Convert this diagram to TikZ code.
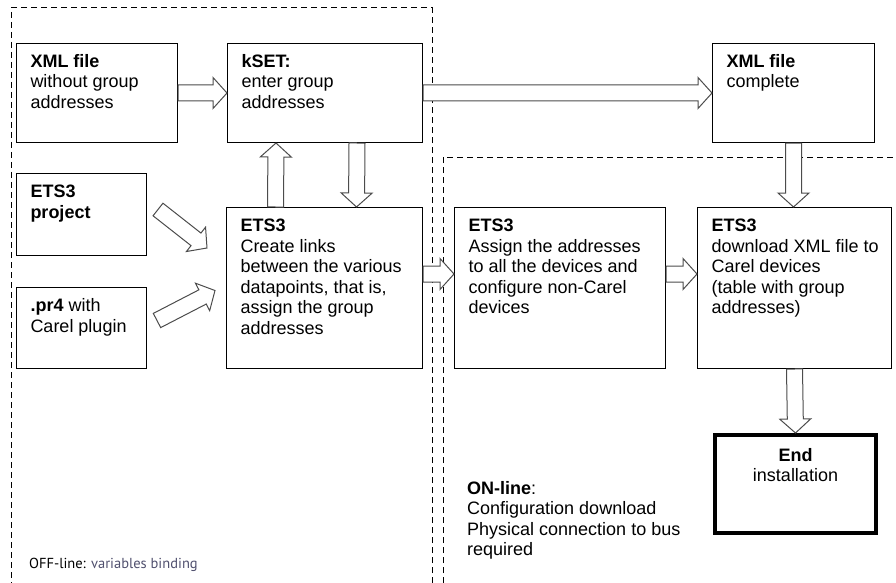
\documentclass[tikz,border=0pt]{standalone}
\usepackage{fontspec}
\setmainfont{Liberation Sans}
\newfontfamily\offfont{PT Sans}
\usetikzlibrary{calc}

\definecolor{arrowgray}{gray}{0.3}
\definecolor{offgray}{RGB}{80,80,110}

% text inside a box: width, height, lines
\newcommand{\stagetext}[3]{\parbox[t][#2pt][t]{#1pt}{\raggedright\leftskip=14pt\rule{0pt}{24pt}#3}}
% hollow block arrow from #1 to #2
\newcommand{\fatarrow}[2]{\draw[fatarrow] let \p1=($(#2)-(#1)$), \n1={atan2(\y1,\x1)}, \n2={veclen(\x1,\y1)} in
  [shift={(#1)}, rotate=\n1] (0,-8) -- ({\n2-14},-8) -- ({\n2-14},-15.5) -- (\n2,0) -- ({\n2-14},15.5) -- ({\n2-14},8) -- (0,8) -- cycle;}

\begin{document}
\begin{tikzpicture}[x=1pt, y=-1pt, font=\fontsize{18}{20.5}\selectfont,
  stagebox/.style={draw, line width=1pt, inner sep=0, anchor=north west},
  zone/.style={dash pattern=on 6pt off 4pt, line width=1pt},
  fatarrow/.style={draw=arrowgray, fill=white, line width=1pt}]
\useasboundingbox (0,0) rectangle (896,583);

% off-line / on-line areas
\draw[zone] (432,583) -- (432,8) -- (11,8) -- (11,583);
\draw[zone] (443,583) -- (443,157) -- (896,157);

\node[stagebox] (xmlin) at (16,43) {\stagetext{161}{99}{\textbf{XML file}\\without group\\addresses}};
\node[stagebox] (kset) at (227,43) {\stagetext{195}{99}{\textbf{kSET:}\\enter group\\addresses}};
\node[stagebox] (xmlout) at (712,43) {\stagetext{162}{99}{\textbf{XML file}\\complete}};
\node[stagebox] (project) at (16,173) {\stagetext{130}{82}{\textbf{ETS3}\\\textbf{project}}};
\node[stagebox] (pr4) at (16,287) {\stagetext{130}{81}{\textbf{.pr4} with\\Carel plugin}};
\node[stagebox] (ets) at (226,207) {\stagetext{196}{161}{\textbf{ETS3}\\Create links\\between the various\\datapoints, that is,\\assign the group\\addresses}};
\node[stagebox] (assign) at (454,207) {\stagetext{211}{161}{\textbf{ETS3}\\Assign the addresses\\to all the devices and\\configure non-Carel\\devices}};
\node[stagebox] (download) at (697,207) {\stagetext{194}{161}{\textbf{ETS3}\\download XML file to\\Carel devices\\(table with group\\addresses)}};
\node[stagebox, line width=4pt] (endbox) at (713,433) {\parbox[t][98pt][t]{161pt}{\centering\rule{0pt}{26pt}\textbf{End}\\installation}};

\node[anchor=base west, inner sep=0] (online) at (467,494) {\parbox[t]{230pt}{\textbf{ON-line}:\\Configuration download\\Physical connection to bus\\required}};
\node[anchor=base west, inner sep=0, font=\offfont\fontsize{14.5}{16}\selectfont] (offline) at (29,568) {OFF-line: \textcolor{offgray}{variables binding}};

% flow
\fatarrow{xmlin.east}{kset.west}
\fatarrow{kset.east}{xmlout.west}
\fatarrow{[xshift=-49pt]ets.north}{[xshift=-49pt]kset.south}
\fatarrow{[xshift=32pt]kset.south}{[xshift=32pt]ets.north}
\fatarrow{[shift={(11pt,5pt)}]project.east}{[shift={(-19pt,-41pt)}]ets.north west}
\fatarrow{[shift={(10pt,7.5pt)}]pr4.east}{[shift={(-11pt,-2.5pt)}]ets.west}
\fatarrow{[yshift=14pt]ets.east}{[yshift=14pt]assign.west}
\fatarrow{[yshift=14pt]assign.east}{[yshift=14pt]download.west}
\fatarrow{xmlout.south}{xmlout.south |- download.north}
\fatarrow{download.south}{endbox.north}
\end{tikzpicture}
\end{document}
